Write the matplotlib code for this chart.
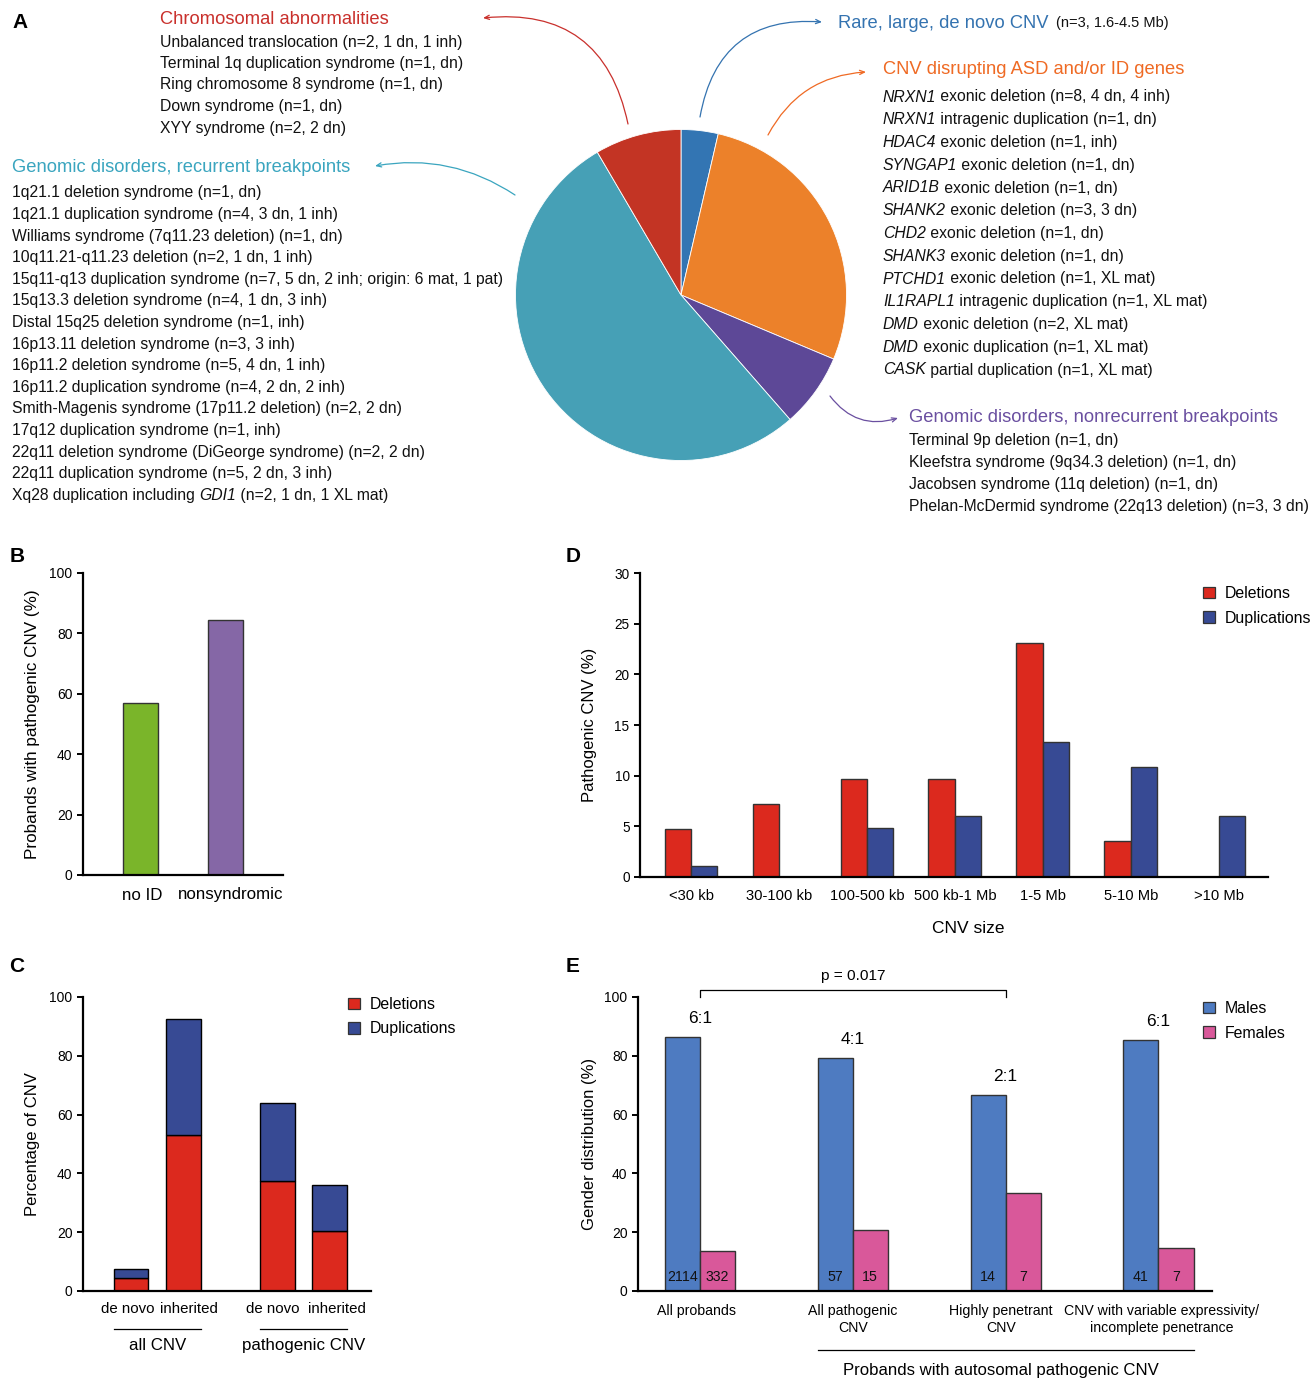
import matplotlib
matplotlib.use('Agg')
import matplotlib.pyplot as plt
import numpy as np
from matplotlib.patches import Patch
from matplotlib.transforms import blended_transform_factory

plt.rcParams['font.family'] = ['Liberation Sans', 'DejaVu Sans']

W, H = 1310, 1379

# ---------------- data ----------------
# A: pie of pathogenic CNV classes (clockwise from 12 o'clock)
pie_names = ['Rare, large, de novo CNV', 'CNV disrupting ASD and/or ID genes',
             'Genomic disorders, nonrecurrent breakpoints',
             'Genomic disorders, recurrent breakpoints', 'Chromosomal abnormalities']
pie_counts = [3, 23, 6, 44, 7]
pie_colors = ['#3375b3', '#ec812a', '#5d4897', '#46a0b6', '#c33424']

# text between * * is set in italics
chrom_lines = ['Unbalanced translocation (n=2, 1 dn, 1 inh)',
               'Terminal 1q duplication syndrome (n=1, dn)',
               'Ring chromosome 8 syndrome (n=1, dn)',
               'Down syndrome (n=1, dn)',
               'XYY syndrome (n=2, 2 dn)']
recurrent_lines = ['1q21.1 deletion syndrome (n=1, dn)',
                   '1q21.1 duplication syndrome (n=4, 3 dn, 1 inh)',
                   'Williams syndrome (7q11.23 deletion) (n=1, dn)',
                   '10q11.21-q11.23 deletion (n=2, 1 dn, 1 inh)',
                   '15q11-q13 duplication syndrome (n=7, 5 dn, 2 inh; origin: 6 mat, 1 pat)',
                   '15q13.3 deletion syndrome (n=4, 1 dn, 3 inh)',
                   'Distal 15q25 deletion syndrome (n=1, inh)',
                   '16p13.11 deletion syndrome (n=3, 3 inh)',
                   '16p11.2 deletion syndrome (n=5, 4 dn, 1 inh)',
                   '16p11.2 duplication syndrome (n=4, 2 dn, 2 inh)',
                   'Smith-Magenis syndrome (17p11.2 deletion) (n=2, 2 dn)',
                   '17q12 duplication syndrome (n=1, inh)',
                   '22q11 deletion syndrome (DiGeorge syndrome) (n=2, 2 dn)',
                   '22q11 duplication syndrome (n=5, 2 dn, 3 inh)',
                   'Xq28 duplication including *GDI1* (n=2, 1 dn, 1 XL mat)']
gene_lines = ['*NRXN1* exonic deletion (n=8, 4 dn, 4 inh)',
              '*NRXN1* intragenic duplication (n=1, dn)',
              '*HDAC4* exonic deletion (n=1, inh)',
              '*SYNGAP1* exonic deletion (n=1, dn)',
              '*ARID1B* exonic deletion (n=1, dn)',
              '*SHANK2* exonic deletion (n=3, 3 dn)',
              '*CHD2* exonic deletion (n=1, dn)',
              '*SHANK3* exonic deletion (n=1, dn)',
              '*PTCHD1* exonic deletion (n=1, XL mat)',
              '*IL1RAPL1* intragenic duplication (n=1, XL mat)',
              '*DMD* exonic deletion (n=2, XL mat)',
              '*DMD* exonic duplication (n=1, XL mat)',
              '*CASK* partial duplication (n=1, XL mat)']
nonrec_lines = ['Terminal 9p deletion (n=1, dn)',
                'Kleefstra syndrome (9q34.3 deletion) (n=1, dn)',
                'Jacobsen syndrome (11q deletion) (n=1, dn)',
                'Phelan-McDermid syndrome (22q13 deletion) (n=3, 3 dn)']

# B
b_labels = ['no ID', 'nonsyndromic']
b_values = [57, 84.5]

# C
c_labels = ['de novo', 'inherited', 'de novo', 'inherited']
c_groups = ['all CNV', 'pathogenic CNV']
c_del = [4.5, 53, 37.5, 20.5]
c_dup = [3, 39.5, 26.5, 15.5]

# D
d_sizes = ['<30 kb', '30-100 kb', '100-500 kb', '500 kb-1 Mb', '1-5 Mb', '5-10 Mb', '>10 Mb']
d_del = [4.7, 7.2, 9.7, 9.7, 23.1, 3.6, 0]
d_dup = [1.1, 0, 4.8, 6.0, 13.3, 10.9, 6.0]

# E
e_labels = ['All probands', 'All pathogenic\nCNV', 'Highly penetrant\nCNV',
            'CNV with variable expressivity/\nincomplete penetrance']
e_male = [86.4, 79.2, 66.7, 85.4]
e_female = [13.6, 20.8, 33.3, 14.6]
e_male_n = [2114, 57, 14, 41]
e_female_n = [332, 15, 7, 7]
e_ratio = ['6:1', '4:1', '2:1', '6:1']

RED = '#dc291e'
BLUE = '#374a94'

fig = plt.figure(figsize=(W / 100, H / 100), dpi=100)
renderer = fig.canvas.get_renderer()


def px_axes(x0, y0, x1, y1, **kw):
    return fig.add_axes([x0 / W, 1 - y1 / H, (x1 - x0) / W, (y1 - y0) / H], **kw)


def style(ax, ysize=10):
    for s in ['top', 'right']:
        ax.spines[s].set_visible(False)
    for s in ['left', 'bottom']:
        ax.spines[s].set_linewidth(1.6)
    ax.tick_params(axis='y', length=4.5, width=1.4, pad=3, labelsize=ysize)
    ax.tick_params(axis='x', length=0)


def square_legend(ax, labels, colors, x, y, fs=11.4):
    handles = [Patch(facecolor=c, edgecolor='#333333', linewidth=0.9) for c in colors]
    ax.legend(handles, labels, loc='upper left', bbox_to_anchor=(x / W, 1 - y / H),
              bbox_transform=fig.transFigure, frameon=False, fontsize=fs,
              handlelength=0.75, handleheight=0.75, handletextpad=0.6,
              labelspacing=0.6, borderpad=0, borderaxespad=0)


# ---------------- A: pie ----------------
ax_pie = px_axes(681 - 165.5, 295 - 165.5, 681 + 165.5, 295 + 165.5)
ax_pie.pie(pie_counts, colors=pie_colors, startangle=90, counterclock=False,
           wedgeprops=dict(edgecolor='white', linewidth=0.6))
ax_pie.set_xlim(-1, 1)
ax_pie.set_ylim(-1, 1)

ov = fig.add_axes([0, 0, 1, 1], zorder=10)
ov.patch.set_alpha(0)
ov.axis('off')
ov.set_xlim(0, W)
ov.set_ylim(H, 0)

BODY = 11.3
HEAD = 13.2


def rich_line(x, y, s, size=BODY):
    # draw a line piece by piece so that gene names can be italic
    for k, part in enumerate(s.split('*')):
        if not part:
            continue
        t = ov.text(x, y, part, fontsize=size, va='baseline', color='#111111',
                    style='italic' if k % 2 else 'normal')
        x += t.get_window_extent(renderer=renderer).width


def block(x, y0, step, header, hcolor, hy, lines):
    ov.text(x, hy + 6.5, header, color=hcolor, fontsize=HEAD, va='baseline')
    for i, s in enumerate(lines):
        rich_line(x, y0 + i * step + 5.5, s)


block(160, 41, 21.5, pie_names[4], '#c9302c', 18, chrom_lines)
block(12, 192, 21.6, pie_names[3], '#3aa5bf', 165, recurrent_lines)
block(883, 96, 22.75, pie_names[1], '#ef6a24', 68, gene_lines)
block(909, 440, 21.7, pie_names[2], '#6a4fa0', 415, nonrec_lines)
ov.text(838, 22 + 6.5, pie_names[0], color='#3473b0', fontsize=HEAD, va='baseline')
ov.text(1056, 22 + 5.5, '(n=3, 1.6-4.5 Mb)', fontsize=10.5, va='baseline', color='#111111')

arrows = [((628, 124), (483, 18), 0.45, '#c9302c'),
          ((700, 117), (822, 22), -0.45, '#3473b0'),
          ((768, 135), (866, 72), -0.28, '#ef6a24'),
          ((515, 195), (375, 166), 0.2, '#3aa5bf'),
          ((830, 396), (898, 418), 0.35, '#6a4fa0')]
for tail, head, rad, col in arrows:
    ov.annotate('', xy=head, xytext=tail,
                arrowprops=dict(arrowstyle='->,head_length=0.35,head_width=0.15', color=col,
                                lw=0.9, connectionstyle='arc3,rad=%s' % rad,
                                shrinkA=0, shrinkB=0))

for lab, (x, y) in zip('ABCDE', [(20, 22), (17, 557), (17, 967), (573, 557), (573, 967)]):
    ov.text(x, y, lab, fontsize=15, fontweight='bold', ha='center', va='center')

# ---------------- B ----------------
ax_b = px_axes(83, 573, 283, 875)
style(ax_b)
xb = np.arange(len(b_values))
ax_b.bar(xb, b_values, width=0.407, color=['#7ab52a', '#8567a6'], edgecolor='#333333', linewidth=1.0)
ax_b.set_xlim(-0.663, 1.663)
ax_b.set_ylim(0, 100)
ax_b.set_yticks(range(0, 101, 20))
ax_b.set_xticks(xb + np.array([0.02, 0.06]))
ax_b.set_xticklabels(b_labels, fontsize=12.2)
ax_b.tick_params(axis='x', pad=9)
ax_b.set_ylabel('Probands with pathogenic CNV (%)', fontsize=12.3)
ax_b.yaxis.set_label_coords(-0.215, 0.5)

# ---------------- C ----------------
ax_c = px_axes(83, 997, 371, 1291)
style(ax_c)
xc = np.array([0, 1, 2.77, 3.75])
wc = 0.66
ax_c.bar(xc, c_del, width=wc, color=RED, edgecolor='black', linewidth=1.0, label='Deletions')
ax_c.bar(xc, c_dup, width=wc, bottom=c_del, color=BLUE, edgecolor='black', linewidth=1.0,
         label='Duplications')
ax_c.set_xlim(-0.906, 4.53)
ax_c.set_ylim(0, 100)
ax_c.set_yticks(range(0, 101, 20))
ax_c.set_xticks(xc + np.array([-0.06, 0.09, -0.09, 0.13]))
ax_c.set_xticklabels(c_labels, fontsize=10.8)
ax_c.tick_params(axis='x', pad=8)
ax_c.set_ylabel('Percentage of CNV', fontsize=12)
ax_c.yaxis.set_label_coords(-0.149, 0.5)
tc = blended_transform_factory(ax_c.transData, ax_c.transAxes)
for g, (a, b) in enumerate([(0, 1), (2, 3)]):
    ax_c.plot([xc[a] - wc / 2, xc[b] + wc / 2], [-0.129, -0.129], color='black', lw=0.9,
              transform=tc, clip_on=False)
    ax_c.text((xc[a] + xc[b]) / 2, -0.184, c_groups[g], transform=tc, ha='center',
              va='center', fontsize=12.2)
square_legend(ax_c, ['Deletions', 'Duplications'], [RED, BLUE], 348, 997)

# ---------------- D ----------------
ax_d = px_axes(640, 573, 1268, 877)
style(ax_d, ysize=9.8)
xd = np.arange(len(d_sizes))
wd = 0.30
ax_d.bar(xd - wd / 2, d_del, width=wd, color=RED, edgecolor='#333333', linewidth=1.0)
ax_d.bar(xd + wd / 2, d_dup, width=wd, color=BLUE, edgecolor='#333333', linewidth=1.0)
ax_d.set_xlim(-0.58, 6.56)
ax_d.set_ylim(0, 30)
ax_d.set_yticks(range(0, 31, 5))
ax_d.set_xticks(xd)
ax_d.set_xticklabels(d_sizes, fontsize=10.6)
ax_d.tick_params(axis='x', pad=9)
ax_d.set_ylabel('Pathogenic CNV (%)', fontsize=12)
ax_d.yaxis.set_label_coords(-0.0685, 0.5)
ax_d.set_xlabel('CNV size', fontsize=12.5)
ax_d.xaxis.set_label_coords(0.522, -0.145)
square_legend(ax_d, ['Deletions', 'Duplications'], [RED, BLUE], 1203, 586)

# ---------------- E ----------------
ax_e = px_axes(638, 997, 1212, 1291)
style(ax_e)
xe = np.arange(len(e_labels))
we = 0.229
ax_e.bar(xe - we / 2, e_male, width=we, color='#4e7bc1', edgecolor='#333333', linewidth=1.0)
ax_e.bar(xe + we / 2, e_female, width=we, color='#d9589a', edgecolor='#333333', linewidth=1.0)
for i in range(len(xe)):
    ax_e.text(xe[i] - we / 2, 4.8, str(e_male_n[i]), ha='center', va='center',
              fontsize=10.2, color='#111111')
    ax_e.text(xe[i] + we / 2, 4.8, str(e_female_n[i]), ha='center', va='center',
              fontsize=10.2, color='#111111')
    ax_e.text(xe[i], e_male[i] + 6.4, e_ratio[i], ha='center', va='center', fontsize=12.4)
ax_e.set_xlim(-0.405, 3.35)
ax_e.set_ylim(0, 100)
ax_e.set_yticks(range(0, 101, 20))
ax_e.set_xticks(xe + np.array([-0.02, 0.0, -0.03, 0.02]))
ax_e.set_xticklabels(e_labels, fontsize=10.2, linespacing=1.3)
ax_e.tick_params(axis='x', pad=9)
ax_e.set_ylabel('Gender distribution (%)', fontsize=12)
ax_e.yaxis.set_label_coords(-0.071, 0.5)
ax_e.plot([0, 0, 2, 2], [100, 102.4, 102.4, 100], color='black', lw=0.9, clip_on=False)
ax_e.text(1, 107.0, 'p = 0.017', ha='center', va='center', fontsize=11.1)
te = blended_transform_factory(ax_e.transData, ax_e.transAxes)
ax_e.plot([xe[1] - we, xe[3] + we], [-0.2, -0.2], color='black', lw=0.9, transform=te,
          clip_on=False)
ax_e.text(xe[2] - 0.03, -0.27, 'Probands with autosomal pathogenic CNV', transform=te,
          ha='center', va='center', fontsize=12.1)
square_legend(ax_e, ['Males', 'Females'], ['#4e7bc1', '#d9589a'], 1203, 1001)

fig.savefig('out.png', dpi=100)
